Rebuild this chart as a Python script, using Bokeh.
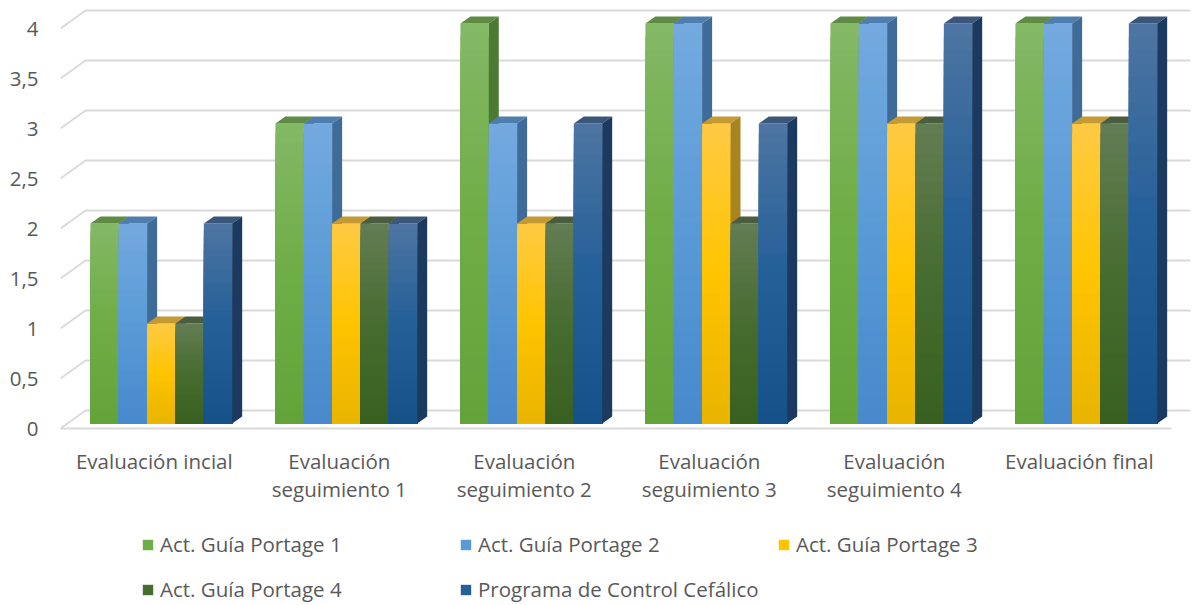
from bokeh.plotting import figure
from bokeh.models import Range1d, FixedTicker, Legend, LegendItem
from bokeh.core.properties import value
from bokeh.embed import file_html
from bokeh.resources import INLINE

# ---------------- data ----------------
categories = ["Evaluación incial", "Evaluación seguimiento 1", "Evaluación seguimiento 2",
              "Evaluación seguimiento 3", "Evaluación seguimiento 4", "Evaluación final"]
category_labels = ["Evaluación incial", "Evaluación\nseguimiento 1", "Evaluación\nseguimiento 2",
                   "Evaluación\nseguimiento 3", "Evaluación\nseguimiento 4", "Evaluación final"]
series_names = ["Act. Guía Portage 1", "Act. Guía Portage 2", "Act. Guía Portage 3",
                "Act. Guía Portage 4", "Programa de Control Cefálico"]
guia_1 = [2, 3, 4, 4, 4, 4]
guia_2 = [2, 3, 3, 4, 4, 4]
guia_3 = [1, 2, 2, 3, 3, 3]
guia_4 = [1, 2, 2, 2, 3, 3]
control_cefalico = [2, 2, 3, 3, 4, 4]
y_ticks = [0, 0.5, 1, 1.5, 2, 2.5, 3, 3.5, 4]
y_tick_labels = ["0", "0,5", "1", "1,5", "2", "2,5", "3", "3,5", "4"]

series_values = [guia_1, guia_2, guia_3, guia_4, control_cefalico]

# styles: (front top, front mid, front bottom, top face, side face)
styles = [
    ("#84b866", "#6fad46", "#64a33a", "#5f8b45", "#4d7a33"),
    ("#74aadf", "#5a9ad6", "#4789cb", "#4f7eae", "#3f6b98"),
    ("#ffca44", "#ffc400", "#e9b400", "#c39a33", "#a8841f"),
    ("#637d54", "#476c30", "#386020", "#4a5d3e", "#2f4a23"),
    ("#4e75a3", "#245f98", "#175189", "#3a5679", "#1c3a5f"),
]

# ---------------- layout constants (pixels) ----------------
W, H = 1192, 605
FRAME_LEFT = 60
CAT_PX = 185.0
C0_PX = 160.8
Y_PX = 100.0
ZERO_PY = 428.0


def xd(px):
    return (px - C0_PX) / CAT_PX


def yd(py):
    return (ZERO_PY - py) / Y_PX


BW = 28.35 / CAT_PX          # bar width in category units
DX = 10.0 / CAT_PX           # depth offset x
DY = 7.0 / Y_PX              # depth offset y
BASE = 5.0 / Y_PX            # bars set back from floor front edge
WALL_DY = 18.0 / Y_PX        # back wall offset
TEXT = "#595959"
FONT = "Open Sans"
FSIZE = "20.5px"

p = figure(width=W, height=H,
           x_range=Range1d(xd(FRAME_LEFT), xd(W)),
           y_range=Range1d(yd(H), yd(0)),
           output_backend="svg", toolbar_location=None,
           min_border_left=FRAME_LEFT, min_border_right=0,
           min_border_top=0, min_border_bottom=0,
           x_axis_location=None)
p.outline_line_color = None
p.xgrid.visible = False
p.ygrid.visible = False
p.background_fill_color = "white"
p.border_fill_color = "white"

yax = p.yaxis[0]
yax.ticker = FixedTicker(ticks=y_ticks)
yax.major_label_overrides = {t: l for t, l in zip(y_ticks, y_tick_labels)}
yax.axis_line_color = None
yax.major_tick_line_color = None
yax.minor_tick_line_color = None
yax.major_tick_out = 0
yax.major_tick_in = 0
yax.major_label_standoff = 22
yax.major_label_text_font = FONT
yax.major_label_text_font_size = FSIZE
yax.major_label_text_color = TEXT

# gridlines (wall + left side)
gx = [[xd(60), xd(85), xd(1190)] for _ in y_ticks]
gy = [[v, v + WALL_DY, v + WALL_DY] for v in y_ticks]
p.multi_line(xs=gx, ys=gy, line_color="#d9d9d9", line_width=1.8)
# floor front edge
p.line(x=[xd(60), xd(1171)], y=[0, 0], line_color="#d9d9d9", line_width=1.8)


def hex2rgb(h):
    h = h.lstrip("#")
    return [int(h[i:i + 2], 16) for i in (0, 2, 4)]


def lerp(c1, c2, t):
    a, b = hex2rgb(c1), hex2rgb(c2)
    return "#%02x%02x%02x" % tuple(int(round(a[k] + (b[k] - a[k]) * t)) for k in range(3))


N = 30
legend_renderers = []
for s, vals in enumerate(series_values):
    ctop, cmid, cbot, ctopface, cside = styles[s]
    xs, ys, cols = [], [], []
    for i, v in enumerate(vals):
        L = i + (s - 2.5) * BW
        R = L + BW
        B = BASE
        T = v + BASE
        # front face: overlapping layers, tallest first (vertical gradient)
        for k in range(N - 1, -1, -1):
            y1 = B + (T - B) * (k + 1) / N
            t = (k + 0.5) / N
            c = lerp(cbot, cmid, t * 2) if t < 0.5 else lerp(cmid, ctop, (t - 0.5) * 2)
            xs.append([L, R, R, L])
            ys.append([B, B, y1, y1])
            cols.append(c)
        xs.append([L, R, R + DX, L + DX])
        ys.append([T, T, T + DY, T + DY])
        cols.append(ctopface)
        xs.append([R, R + DX, R + DX, R])
        ys.append([B, B + DY, T + DY, T])
        cols.append(cside)
    p.patches(xs=xs, ys=ys, fill_color=cols, line_color=None)
    nan = float("nan")
    legend_renderers.append(p.quad(left=[nan], right=[nan], top=[nan], bottom=[nan],
                                   fill_color=cmid, line_color=None))

# category labels
p.text(x=[i - 7.0 / CAT_PX for i in range(len(categories))],
       y=[yd(446)] * len(categories), text=category_labels,
       text_align="center", text_baseline="top",
       text_font=value(FONT), text_font_size=FSIZE, text_color=TEXT,
       text_line_height=1.03)

# legend: one entry per slot, laid out like the reference
legend_pos = [(81, 47), (399, 47), (717, 47), (81, 2), (399, 2)]
for name, r, loc in zip(series_names, legend_renderers, legend_pos):
    lg = Legend(items=[LegendItem(label=name, renderers=[r])], location=loc,
                orientation="horizontal", padding=0, margin=0, spacing=0,
                border_line_color=None, background_fill_alpha=0,
                glyph_width=13, glyph_height=13, label_standoff=6,
                label_text_font=FONT, label_text_font_size=FSIZE,
                label_text_color=TEXT, label_height=22)
    p.add_layout(lg)

open("out.html", "w").write(file_html(p, INLINE))
